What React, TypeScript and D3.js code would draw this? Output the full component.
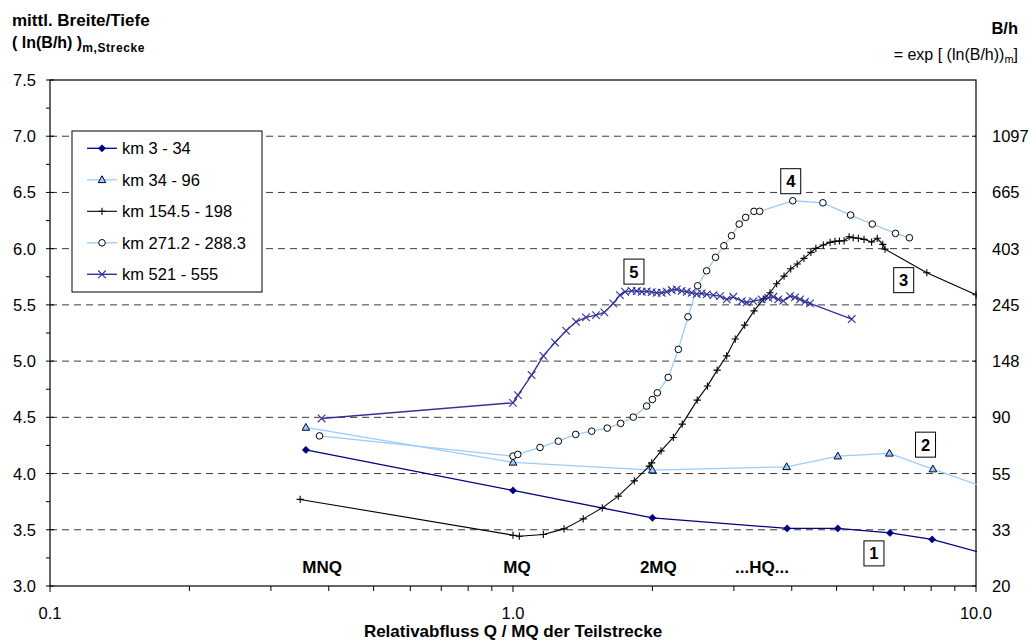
import React from 'react';
import * as d3 from 'd3';

// relative discharge Q/MQ, mean ln(B/h)
const km3_34: [number, number][] = [
  [0.357, 4.21], [1.0, 3.85], [2.0, 3.606], [3.91, 3.512], [5.03, 3.512], [6.52, 3.472], [8.04, 3.414], [12, 3.22],
];
const km34_96: [number, number][] = [
  [0.357, 4.41], [1.0, 4.1], [2.0, 4.03], [3.9, 4.06], [5.03, 4.155], [6.5, 4.18], [8.07, 4.04], [12, 3.79],
];
const km154_198: [number, number][] = [
  [0.347, 3.77], [1.0, 3.452], [1.032, 3.443], [1.163, 3.458], [1.289, 3.508], [1.418, 3.597], [1.559, 3.695],
  [1.688, 3.799], [1.828, 3.935], [1.969, 4.066], [1.993, 4.095], [2.088, 4.202], [2.22, 4.321], [2.32, 4.44],
  [2.5, 4.653], [2.63, 4.778], [2.76, 4.92], [2.894, 5.047], [3.02, 5.196], [3.165, 5.32], [3.316, 5.447],
  [3.472, 5.552], [3.59, 5.608], [3.71, 5.688], [3.85, 5.756], [3.98, 5.821], [4.11, 5.863], [4.25, 5.914],
  [4.4, 5.967], [4.51, 6.003], [4.68, 6.032], [4.84, 6.056], [4.96, 6.065], [5.07, 6.068], [5.19, 6.07],
  [5.32, 6.106], [5.43, 6.097], [5.57, 6.092], [5.73, 6.083], [5.95, 6.059], [6.12, 6.092], [6.29, 6.038],
  [6.36, 5.996], [7.83, 5.786], [10.0, 5.59],
];
const km271_288: [number, number][] = [
  [0.382, 4.335], [1.0, 4.155], [1.024, 4.17], [1.144, 4.232], [1.253, 4.288], [1.366, 4.348], [1.479, 4.377],
  [1.598, 4.404], [1.708, 4.446], [1.819, 4.502], [1.944, 4.6], [2.0, 4.659], [2.05, 4.718], [2.164, 4.855],
  [2.276, 5.104], [2.388, 5.394], [2.505, 5.67], [2.619, 5.803], [2.738, 5.923], [2.854, 6.026], [2.965, 6.115],
  [3.08, 6.219], [3.18, 6.278], [3.315, 6.332], [3.41, 6.332], [4.02, 6.426], [4.67, 6.408], [5.36, 6.299],
  [5.97, 6.219], [6.7, 6.136], [7.18, 6.097],
];
const km521_555: [number, number][] = [
  [0.386, 4.49], [1.0, 4.629], [1.025, 4.698], [1.097, 4.876], [1.163, 5.047], [1.232, 5.166], [1.302, 5.27],
  [1.368, 5.35], [1.438, 5.389], [1.511, 5.409], [1.575, 5.433], [1.646, 5.513], [1.702, 5.587], [1.746, 5.617],
  [1.804, 5.625], [1.851, 5.623], [1.897, 5.617], [1.945, 5.62], [1.993, 5.614], [2.043, 5.608], [2.095, 5.608],
  [2.148, 5.617], [2.202, 5.632], [2.258, 5.638], [2.314, 5.625], [2.373, 5.617], [2.432, 5.608], [2.494, 5.596],
  [2.556, 5.602], [2.621, 5.593], [2.708, 5.587], [2.8, 5.578], [2.894, 5.549], [2.991, 5.572], [3.119, 5.534],
  [3.197, 5.522], [3.304, 5.534], [3.444, 5.549], [3.559, 5.563], [3.65, 5.572], [3.741, 5.549], [3.836, 5.536],
  [3.966, 5.578], [4.064, 5.567], [4.168, 5.549], [4.273, 5.528], [4.38, 5.513], [5.39, 5.374],
];

const seriesNames = ['km 3 - 34', 'km 34 - 96', 'km 154.5 - 198', 'km 271.2 - 288.3', 'km 521 - 555'];
const leftTicks = [3.0, 3.5, 4.0, 4.5, 5.0, 5.5, 6.0, 6.5, 7.0, 7.5];
const rightTicks = [3.0, 3.5, 4.0, 4.5, 5.0, 5.5, 6.0, 6.5, 7.0];
const rightTickLabels = ['20', '33', '55', '90', '148', '245', '403', '665', '1097'];
const xMajor = [0.1, 1, 10];
const xMajorLabels = ['0.1', '1.0', '10.0'];
const flowLabels = ['MNQ', 'MQ', '2MQ', '...HQ...'];
const flowLabelQ = [0.387, 1.02, 2.06, 3.45];
const boxLabels = ['1', '2', '3', '4', '5'];
const boxPos: [number, number][] = [[6.02, 3.29], [7.78, 4.257], [6.98, 5.72], [3.98, 6.6], [1.825, 5.796]];

const font = '"Liberation Sans", Arial, sans-serif';

type Marker = 'diamond' | 'triangle' | 'plus' | 'circle' | 'x';

const series = [
  { name: seriesNames[0], data: km3_34, color: '#000080', marker: 'diamond' as Marker, width: 1.3 },
  { name: seriesNames[1], data: km34_96, color: '#99CCFF', marker: 'triangle' as Marker, width: 1.3 },
  { name: seriesNames[2], data: km154_198, color: '#000000', marker: 'plus' as Marker, width: 1.1 },
  { name: seriesNames[3], data: km271_288, color: '#99CCFF', marker: 'circle' as Marker, width: 1.3 },
  { name: seriesNames[4], data: km521_555, color: '#333399', marker: 'x' as Marker, width: 1.4 },
];

const Mark = ({ kind, cx, cy, color }: { kind: Marker; cx: number; cy: number; color: string }) => {
  const t = `translate(${cx},${cy})`;
  if (kind === 'diamond') return <path transform={t} d="M0,-3.6L3.6,0L0,3.6L-3.6,0Z" fill="#000080" stroke="#000080" strokeWidth={0.6} />;
  if (kind === 'triangle') return <path transform={t} d="M0,-4L3.8,2.8L-3.8,2.8Z" fill="#99CCFF" stroke="#000033" strokeWidth={1} />;
  if (kind === 'circle') return <circle cx={cx} cy={cy} r={3.3} fill="#fff" stroke="#000" strokeWidth={1} />;
  if (kind === 'plus') return <path transform={t} d="M-3.6,0H3.6M0,-3.6V3.6" stroke="#000" strokeWidth={1.1} fill="none" />;
  return <path transform={t} d="M-3.8,-3.8L3.8,3.8M-3.8,3.8L3.8,-3.8" stroke={color} strokeWidth={1.1} fill="none" />;
};

export default function App() {
  const left = 50, right = 976, top = 80, bottom = 586;
  const x = d3.scaleLog().domain([0.1, 10]).range([left, right]);
  const y = d3.scaleLinear().domain([3, 7.5]).range([bottom, top]);
  const line = d3.line<[number, number]>().x(d => x(d[0])).y(d => y(d[1]));

  const xMinor: number[] = [];
  [0.1, 1].forEach(dec => { for (let k = 2; k <= 9; k++) xMinor.push(dec * k); });
  const yMinor = d3.range(3.25, 7.5, 0.5);

  const legendX = 72, legendY = 131, legendW = 190, legendH = 161;
  const rowY = (i: number) => 148.3 + i * 31.5;

  return (
    <svg width={1033} height={640} style={{ position: 'absolute', left: 0, top: 0, background: '#fff' }} fontFamily={font}>
      <defs>
        <clipPath id="plot">
          <rect x={left} y={top} width={right - left + 1} height={bottom - top} />
        </clipPath>
      </defs>

      {/* gridlines */}
      {leftTicks.filter(v => v > 3 && v < 7.5).map(v => (
        <line key={'g' + v} x1={left} x2={right} y1={y(v)} y2={y(v)} stroke="#3a3a3a" strokeDasharray="7 5" strokeWidth={1} />
      ))}

      {/* frame */}
      <rect x={left} y={top} width={right - left} height={bottom - top} fill="none" stroke="#000" strokeWidth={1.2} />

      {/* left axis ticks */}
      {leftTicks.map(v => (
        <g key={'l' + v}>
          <line x1={left - 4} x2={left + 4} y1={y(v)} y2={y(v)} stroke="#000" />
          <text x={36} y={y(v) + 6} textAnchor="end" fontSize={16.5} fill="#000">{v.toFixed(1)}</text>
        </g>
      ))}
      {yMinor.map(v => (
        <line key={'lm' + v} x1={left - 4} x2={left} y1={y(v)} y2={y(v)} stroke="#000" />
      ))}

      {/* right axis */}
      {rightTicks.map((v, i) => (
        <g key={'r' + v}>
          <line x1={right - 4} x2={right} y1={y(v)} y2={y(v)} stroke="#000" />
          <text x={992} y={y(v) + 6} fontSize={16.5} fill="#000">{rightTickLabels[i]}</text>
        </g>
      ))}

      {/* x axis */}
      {xMajor.map((v, i) => (
        <g key={'x' + v}>
          <line x1={x(v)} x2={x(v)} y1={bottom} y2={bottom + 6} stroke="#000" />
          <text x={x(v)} y={619} textAnchor="middle" fontSize={16.5} fill="#000">{xMajorLabels[i]}</text>
        </g>
      ))}
      {xMinor.map(v => (
        <line key={'xm' + v} x1={x(v)} x2={x(v)} y1={bottom} y2={bottom + 5} stroke="#000" />
      ))}
      <text x={513} y={637} textAnchor="middle" fontSize={17} fontWeight="bold" fill="#000">Relativabfluss Q / MQ der Teilstrecke</text>

      {/* titles */}
      <text x={12} y={26} fontSize={17} fontWeight="bold">mittl. Breite/Tiefe</text>
      <text x={12} y={48} fontSize={16} fontWeight="bold">
        ( ln(B/h) )<tspan fontSize={12} dy={4} letterSpacing={0.6}>m,Strecke</tspan>
      </text>
      <text x={1018} y={34} textAnchor="end" fontSize={16.5} fontWeight="bold">B/h</text>
      <text x={1018} y={60} textAnchor="end" fontSize={16}>
        = exp [ (ln(B/h))<tspan fontSize={11} dy={3}>m</tspan><tspan dy={-3}>]</tspan>
      </text>

      {/* flow labels */}
      {flowLabels.map((s, i) => (
        <text key={s} x={x(flowLabelQ[i])} y={y(3.114)} textAnchor="middle" fontSize={17} fontWeight="bold">{s}</text>
      ))}

      {/* series */}
      <g clipPath="url(#plot)">
        {series.map(s => (
          <path key={s.name} d={line(s.data) || ''} fill="none" stroke={s.color} strokeWidth={s.width} />
        ))}
        {series.map(s => (
          <g key={s.name + 'm'}>
            {s.data.map((d, i) => (
              <Mark key={i} kind={s.marker} cx={x(d[0])} cy={y(d[1])} color={s.color} />
            ))}
          </g>
        ))}
      </g>

      {/* boxed series numbers */}
      {boxLabels.map((b, i) => {
        const cx = x(boxPos[i][0]);
        const cy = y(boxPos[i][1]);
        return (
          <g key={'b' + b}>
            <rect x={cx - 10} y={cy - 12.5} width={20} height={25} fill="#fff" stroke="#000" strokeWidth={1} />
            <text x={cx} y={cy + 6} textAnchor="middle" fontSize={16.5} fontWeight="bold">{b}</text>
          </g>
        );
      })}

      {/* legend */}
      <rect x={legendX} y={legendY} width={legendW} height={legendH} fill="#fff" stroke="#000" strokeWidth={1} />
      {series.map((s, i) => (
        <g key={'lg' + i}>
          <line x1={87} x2={117} y1={rowY(i)} y2={rowY(i)} stroke={s.color} strokeWidth={s.width} />
          <Mark kind={s.marker} cx={102} cy={rowY(i)} color={s.color} />
          <text x={122} y={rowY(i) + 6} fontSize={16.5}>{s.name}</text>
        </g>
      ))}
    </svg>
  );
}
